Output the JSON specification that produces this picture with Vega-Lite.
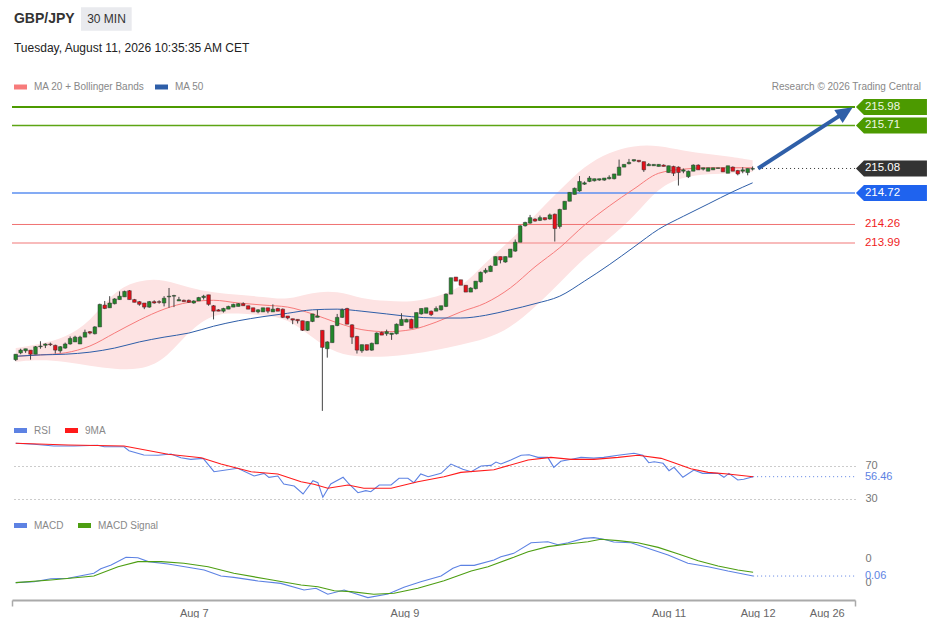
{
  "$schema": "https://vega.github.io/schema/vega-lite/v6.json",
  "background": "white",
  "padding": {"left": 11, "top": 7, "right": 0, "bottom": 0},
  "config": {
    "font": "Liberation Sans",
    "view": {"stroke": null},
    "scale": {"continuousPadding": 0},
    "legend": {
      "orient": "none", "direction": "horizontal", "title": null,
      "labelFontSize": 10, "labelColor": "#888888",
      "symbolType": "stroke", "symbolStrokeWidth": 5, "symbolSize": 169,
      "labelOffset": 4.5, "padding": 0
    }
  },
  "bounds": "flush",
  "spacing": 27,
  "resolve": {
    "scale": {"color": "independent", "x": "independent", "y": "independent"},
    "legend": {"color": "independent"},
    "axis": {"x": "independent", "y": "independent"}
  },
  "datasets": {
    "k": [
      {"i":0,"o":212.28,"h":212.36,"l":212.26,"c":212.36},
      {"i":1,"o":212.38,"h":212.44,"l":212.36,"c":212.42},
      {"i":2,"o":212.41,"h":212.44,"l":212.38,"c":212.44},
      {"i":3,"o":212.42,"h":212.42,"l":212.28,"c":212.36},
      {"i":4,"o":212.36,"h":212.48,"l":212.36,"c":212.47},
      {"i":5,"o":212.47,"h":212.55,"l":212.44,"c":212.48},
      {"i":6,"o":212.49,"h":212.52,"l":212.45,"c":212.51},
      {"i":7,"o":212.51,"h":212.53,"l":212.48,"c":212.50},
      {"i":8,"o":212.49,"h":212.50,"l":212.37,"c":212.42},
      {"i":9,"o":212.41,"h":212.48,"l":212.38,"c":212.47},
      {"i":10,"o":212.45,"h":212.53,"l":212.44,"c":212.51},
      {"i":11,"o":212.51,"h":212.62,"l":212.50,"c":212.59},
      {"i":12,"o":212.54,"h":212.63,"l":212.54,"c":212.61},
      {"i":13,"o":212.51,"h":212.63,"l":212.51,"c":212.61},
      {"i":14,"o":212.61,"h":212.72,"l":212.61,"c":212.68},
      {"i":15,"o":212.69,"h":212.70,"l":212.65,"c":212.67},
      {"i":16,"o":212.66,"h":212.77,"l":212.65,"c":212.76},
      {"i":17,"o":212.76,"h":213.10,"l":212.76,"c":213.09},
      {"i":18,"o":213.08,"h":213.14,"l":213.02,"c":213.03},
      {"i":19,"o":213.04,"h":213.21,"l":213.04,"c":213.11},
      {"i":20,"o":213.10,"h":213.18,"l":213.09,"c":213.17},
      {"i":21,"o":213.16,"h":213.28,"l":213.16,"c":213.21},
      {"i":22,"o":213.20,"h":213.29,"l":213.20,"c":213.28},
      {"i":23,"o":213.29,"h":213.30,"l":213.16,"c":213.16},
      {"i":24,"o":213.16,"h":213.17,"l":213.12,"c":213.12},
      {"i":25,"o":213.13,"h":213.14,"l":213.07,"c":213.09},
      {"i":26,"o":213.11,"h":213.11,"l":213.02,"c":213.05},
      {"i":27,"o":213.05,"h":213.14,"l":213.04,"c":213.13},
      {"i":28,"o":213.13,"h":213.15,"l":213.10,"c":213.11},
      {"i":29,"o":213.13,"h":213.15,"l":213.10,"c":213.12},
      {"i":30,"o":213.11,"h":213.21,"l":213.06,"c":213.18},
      {"i":31,"o":213.20,"h":213.33,"l":213.04,"c":213.21},
      {"i":32,"o":213.21,"h":213.23,"l":213.05,"c":213.22},
      {"i":33,"o":213.14,"h":213.20,"l":213.14,"c":213.16},
      {"i":34,"o":213.15,"h":213.16,"l":213.13,"c":213.13},
      {"i":35,"o":213.15,"h":213.16,"l":213.11,"c":213.12},
      {"i":36,"o":213.11,"h":213.15,"l":213.10,"c":213.14},
      {"i":37,"o":213.14,"h":213.20,"l":213.14,"c":213.19},
      {"i":38,"o":213.19,"h":213.23,"l":213.16,"c":213.21},
      {"i":39,"o":213.23,"h":213.23,"l":213.07,"c":213.09},
      {"i":40,"o":213.07,"h":213.08,"l":212.87,"c":212.99},
      {"i":41,"o":213.01,"h":213.02,"l":212.99,"c":212.99},
      {"i":42,"o":212.99,"h":213.04,"l":212.97,"c":213.03},
      {"i":43,"o":213.02,"h":213.07,"l":213.02,"c":213.06},
      {"i":44,"o":213.05,"h":213.10,"l":213.05,"c":213.09},
      {"i":45,"o":213.06,"h":213.11,"l":213.06,"c":213.10},
      {"i":46,"o":213.10,"h":213.12,"l":213.07,"c":213.07},
      {"i":47,"o":213.07,"h":213.07,"l":213.02,"c":213.02},
      {"i":48,"o":213.04,"h":213.04,"l":212.98,"c":212.98},
      {"i":49,"o":212.98,"h":213.02,"l":212.96,"c":213.01},
      {"i":50,"o":212.98,"h":213.04,"l":212.98,"c":213.04},
      {"i":51,"o":213.04,"h":213.04,"l":212.96,"c":212.99},
      {"i":52,"o":212.98,"h":213.09,"l":212.98,"c":213.02},
      {"i":53,"o":213.03,"h":213.04,"l":212.99,"c":212.99},
      {"i":54,"o":213.02,"h":213.03,"l":212.89,"c":212.90},
      {"i":55,"o":212.92,"h":212.92,"l":212.87,"c":212.89},
      {"i":56,"o":212.88,"h":212.88,"l":212.80,"c":212.86},
      {"i":57,"o":212.87,"h":212.87,"l":212.81,"c":212.85},
      {"i":58,"o":212.85,"h":212.85,"l":212.70,"c":212.71},
      {"i":59,"o":212.71,"h":212.84,"l":212.70,"c":212.84},
      {"i":60,"o":212.84,"h":212.95,"l":212.83,"c":212.95},
      {"i":61,"o":212.90,"h":213.01,"l":212.90,"c":212.92},
      {"i":62,"o":212.71,"h":212.71,"l":211.53,"c":212.46},
      {"i":63,"o":212.44,"h":212.55,"l":212.31,"c":212.54},
      {"i":64,"o":212.53,"h":212.78,"l":212.53,"c":212.78},
      {"i":65,"o":212.78,"h":212.95,"l":212.77,"c":212.90},
      {"i":66,"o":212.90,"h":213.03,"l":212.89,"c":213.01},
      {"i":67,"o":213.03,"h":213.04,"l":212.80,"c":212.80},
      {"i":68,"o":212.79,"h":212.80,"l":212.51,"c":212.61},
      {"i":69,"o":212.62,"h":212.63,"l":212.37,"c":212.42},
      {"i":70,"o":212.41,"h":212.50,"l":212.38,"c":212.50},
      {"i":71,"o":212.50,"h":212.50,"l":212.41,"c":212.42},
      {"i":72,"o":212.42,"h":212.53,"l":212.41,"c":212.52},
      {"i":73,"o":212.51,"h":212.68,"l":212.51,"c":212.67},
      {"i":74,"o":212.68,"h":212.69,"l":212.64,"c":212.64},
      {"i":75,"o":212.66,"h":212.72,"l":212.63,"c":212.69},
      {"i":76,"o":212.65,"h":212.67,"l":212.57,"c":212.67},
      {"i":77,"o":212.66,"h":212.81,"l":212.65,"c":212.80},
      {"i":78,"o":212.78,"h":212.96,"l":212.78,"c":212.87},
      {"i":79,"o":212.83,"h":212.88,"l":212.83,"c":212.87},
      {"i":80,"o":212.87,"h":212.88,"l":212.74,"c":212.74},
      {"i":81,"o":212.75,"h":212.97,"l":212.75,"c":212.97},
      {"i":82,"o":212.95,"h":213.03,"l":212.94,"c":213.03},
      {"i":83,"o":212.96,"h":213.04,"l":212.96,"c":213.04},
      {"i":84,"o":212.99,"h":213.00,"l":212.92,"c":212.94},
      {"i":85,"o":212.99,"h":213.06,"l":212.99,"c":213.03},
      {"i":86,"o":213.01,"h":213.07,"l":213.00,"c":213.07},
      {"i":87,"o":213.06,"h":213.25,"l":213.05,"c":213.24},
      {"i":88,"o":213.24,"h":213.48,"l":213.24,"c":213.48},
      {"i":89,"o":213.49,"h":213.49,"l":213.43,"c":213.43},
      {"i":90,"o":213.45,"h":213.45,"l":213.37,"c":213.37},
      {"i":91,"o":213.37,"h":213.37,"l":213.27,"c":213.27},
      {"i":92,"o":213.27,"h":213.34,"l":213.27,"c":213.33},
      {"i":93,"o":213.32,"h":213.43,"l":213.31,"c":213.43},
      {"i":94,"o":213.42,"h":213.57,"l":213.41,"c":213.56},
      {"i":95,"o":213.56,"h":213.62,"l":213.54,"c":213.59},
      {"i":96,"o":213.57,"h":213.66,"l":213.57,"c":213.65},
      {"i":97,"o":213.66,"h":213.79,"l":213.66,"c":213.79},
      {"i":98,"o":213.79,"h":213.79,"l":213.69,"c":213.74},
      {"i":99,"o":213.71,"h":213.79,"l":213.70,"c":213.79},
      {"i":100,"o":213.78,"h":213.90,"l":213.78,"c":213.90},
      {"i":101,"o":213.87,"h":214.04,"l":213.86,"c":214.00},
      {"i":102,"o":214.00,"h":214.25,"l":214.00,"c":214.24},
      {"i":103,"o":214.24,"h":214.30,"l":214.23,"c":214.29},
      {"i":104,"o":214.28,"h":214.40,"l":214.27,"c":214.36},
      {"i":105,"o":214.34,"h":214.35,"l":214.30,"c":214.31},
      {"i":106,"o":214.32,"h":214.39,"l":214.31,"c":214.36},
      {"i":107,"o":214.36,"h":214.36,"l":214.32,"c":214.33},
      {"i":108,"o":214.34,"h":214.42,"l":214.33,"c":214.40},
      {"i":109,"o":214.41,"h":214.42,"l":214.01,"c":214.20},
      {"i":110,"o":214.23,"h":214.49,"l":214.20,"c":214.48},
      {"i":111,"o":214.48,"h":214.60,"l":214.48,"c":214.60},
      {"i":112,"o":214.60,"h":214.73,"l":214.60,"c":214.73},
      {"i":113,"o":214.70,"h":214.80,"l":214.70,"c":214.79},
      {"i":114,"o":214.75,"h":214.97,"l":214.74,"c":214.89},
      {"i":115,"o":214.85,"h":214.89,"l":214.84,"c":214.87},
      {"i":116,"o":214.89,"h":214.97,"l":214.88,"c":214.94},
      {"i":117,"o":214.90,"h":214.93,"l":214.89,"c":214.93},
      {"i":118,"o":214.91,"h":214.93,"l":214.90,"c":214.93},
      {"i":119,"o":214.91,"h":214.94,"l":214.90,"c":214.94},
      {"i":120,"o":214.93,"h":214.98,"l":214.92,"c":214.95},
      {"i":121,"o":214.93,"h":215.00,"l":214.92,"c":215.00},
      {"i":122,"o":214.98,"h":215.21,"l":214.98,"c":215.10},
      {"i":123,"o":215.10,"h":215.14,"l":215.10,"c":215.14},
      {"i":124,"o":215.15,"h":215.22,"l":215.14,"c":215.17},
      {"i":125,"o":215.19,"h":215.21,"l":215.18,"c":215.21},
      {"i":126,"o":215.20,"h":215.20,"l":215.17,"c":215.18},
      {"i":127,"o":215.18,"h":215.18,"l":215.03,"c":215.06},
      {"i":128,"o":215.12,"h":215.16,"l":215.12,"c":215.14},
      {"i":129,"o":215.12,"h":215.14,"l":215.12,"c":215.14},
      {"i":130,"o":215.11,"h":215.14,"l":215.11,"c":215.14},
      {"i":131,"o":215.13,"h":215.14,"l":215.11,"c":215.11},
      {"i":132,"o":215.02,"h":215.12,"l":215.02,"c":215.12},
      {"i":133,"o":215.11,"h":215.12,"l":214.97,"c":215.01},
      {"i":134,"o":215.10,"h":215.11,"l":214.83,"c":215.02},
      {"i":135,"o":215.04,"h":215.08,"l":215.01,"c":215.06},
      {"i":136,"o":214.96,"h":215.05,"l":214.94,"c":215.04},
      {"i":137,"o":215.04,"h":215.14,"l":215.04,"c":215.13},
      {"i":138,"o":215.13,"h":215.14,"l":215.06,"c":215.06},
      {"i":139,"o":215.07,"h":215.09,"l":215.05,"c":215.09},
      {"i":140,"o":215.04,"h":215.09,"l":215.04,"c":215.09},
      {"i":141,"o":215.06,"h":215.09,"l":215.06,"c":215.09},
      {"i":142,"o":215.08,"h":215.09,"l":215.08,"c":215.09},
      {"i":143,"o":215.09,"h":215.09,"l":215.03,"c":215.03},
      {"i":144,"o":215.01,"h":215.12,"l":215.01,"c":215.12},
      {"i":145,"o":215.10,"h":215.11,"l":215.04,"c":215.04},
      {"i":146,"o":215.05,"h":215.06,"l":214.98,"c":215.00},
      {"i":147,"o":215.04,"h":215.10,"l":215.01,"c":215.06},
      {"i":148,"o":215.02,"h":215.08,"l":214.98,"c":215.08},
      {"i":149,"o":215.07,"h":215.11,"l":215.05,"c":215.08}
    ],
    "ind": [
      {"i":0,"u":212.45,"lo":212.25,"m20":212.33,"m50":212.33},
      {"i":5,"u":212.51,"lo":212.28,"m20":212.35,"m50":212.35},
      {"i":10,"u":212.60,"lo":212.25,"m20":212.38,"m50":212.36},
      {"i":15,"u":212.83,"lo":212.19,"m20":212.48,"m50":212.39},
      {"i":20,"u":213.30,"lo":212.14,"m20":212.67,"m50":212.45},
      {"i":25,"u":213.45,"lo":212.13,"m20":212.86,"m50":212.54},
      {"i":30,"u":213.46,"lo":212.26,"m20":213.02,"m50":212.61},
      {"i":35,"u":213.33,"lo":212.70,"m20":213.12,"m50":212.67},
      {"i":40,"u":213.26,"lo":212.96,"m20":213.15,"m50":212.77},
      {"i":45,"u":213.23,"lo":212.96,"m20":213.11,"m50":212.85},
      {"i":50,"u":213.20,"lo":212.93,"m20":213.08,"m50":212.91},
      {"i":55,"u":213.15,"lo":212.89,"m20":213.05,"m50":212.96},
      {"i":60,"u":213.27,"lo":212.60,"m20":212.95,"m50":213.01},
      {"i":65,"u":213.29,"lo":212.36,"m20":212.82,"m50":213.02},
      {"i":70,"u":213.17,"lo":212.32,"m20":212.72,"m50":212.99},
      {"i":75,"u":213.14,"lo":212.32,"m20":212.69,"m50":212.95},
      {"i":80,"u":213.12,"lo":212.36,"m20":212.72,"m50":212.91},
      {"i":85,"u":213.20,"lo":212.42,"m20":212.83,"m50":212.89},
      {"i":90,"u":213.32,"lo":212.50,"m20":212.98,"m50":212.89},
      {"i":95,"u":213.71,"lo":212.58,"m20":213.11,"m50":212.93},
      {"i":100,"u":214.02,"lo":212.74,"m20":213.33,"m50":213.01},
      {"i":105,"u":214.40,"lo":213.05,"m20":213.64,"m50":213.10},
      {"i":110,"u":214.76,"lo":213.40,"m20":213.92,"m50":213.21},
      {"i":115,"u":215.12,"lo":213.78,"m20":214.25,"m50":213.43},
      {"i":120,"u":215.32,"lo":214.05,"m20":214.53,"m50":213.67},
      {"i":125,"u":215.42,"lo":214.37,"m20":214.78,"m50":213.93},
      {"i":130,"u":215.42,"lo":214.81,"m20":215.01,"m50":214.19},
      {"i":135,"u":215.34,"lo":214.96,"m20":215.07,"m50":214.38},
      {"i":140,"u":215.29,"lo":215.00,"m20":215.09,"m50":214.56},
      {"i":145,"u":215.25,"lo":215.01,"m20":215.09,"m50":214.74},
      {"i":149,"u":215.20,"lo":215.03,"m20":215.09,"m50":214.87}
    ],
    "rsi": [
      {"i":0,"v":96.9,"s":"RSI"},{"i":3.7,"v":95.7,"s":"RSI"},{"i":7.7,"v":93.6,"s":"RSI"},{"i":11.8,"v":93.6,"s":"RSI"},
      {"i":16.6,"v":94.5,"s":"RSI"},{"i":17.9,"v":92.8,"s":"RSI"},{"i":21.9,"v":92.8,"s":"RSI"},{"i":22.9,"v":87.9,"s":"RSI"},
      {"i":25.9,"v":82.7,"s":"RSI"},{"i":28.8,"v":82.4,"s":"RSI"},{"i":31.4,"v":83.9,"s":"RSI"},{"i":33.4,"v":79.5,"s":"RSI"},
      {"i":35.4,"v":77.5,"s":"RSI"},{"i":37.9,"v":78.7,"s":"RSI"},{"i":40.1,"v":62.5,"s":"RSI"},{"i":44.9,"v":66.6,"s":"RSI"},
      {"i":48.2,"v":57.3,"s":"RSI"},{"i":50.2,"v":60.5,"s":"RSI"},{"i":51.2,"v":55.7,"s":"RSI"},{"i":53.0,"v":57.3,"s":"RSI"},
      {"i":54.2,"v":47.6,"s":"RSI"},{"i":56.3,"v":45.2,"s":"RSI"},{"i":58.1,"v":35.5,"s":"RSI"},{"i":60.1,"v":51.6,"s":"RSI"},
      {"i":61.1,"v":49.2,"s":"RSI"},{"i":62.1,"v":31.5,"s":"RSI"},{"i":63.7,"v":47.6,"s":"RSI"},{"i":66.2,"v":55.7,"s":"RSI"},
      {"i":67.4,"v":47.6,"s":"RSI"},{"i":69.2,"v":37.0,"s":"RSI"},{"i":70.8,"v":39.5,"s":"RSI"},{"i":71.8,"v":38.2,"s":"RSI"},
      {"i":73.5,"v":46.4,"s":"RSI"},{"i":75.9,"v":46.4,"s":"RSI"},{"i":77.5,"v":54.5,"s":"RSI"},{"i":79.3,"v":54.5,"s":"RSI"},
      {"i":80.5,"v":49.2,"s":"RSI"},{"i":81.9,"v":59.7,"s":"RSI"},{"i":83.4,"v":56.4,"s":"RSI"},{"i":86.0,"v":60.5,"s":"RSI"},
      {"i":88.0,"v":71.8,"s":"RSI"},{"i":90.4,"v":65.4,"s":"RSI"},{"i":92.1,"v":62.5,"s":"RSI"},{"i":94.1,"v":69.4,"s":"RSI"},
      {"i":96.1,"v":70.2,"s":"RSI"},{"i":97.1,"v":74.2,"s":"RSI"},{"i":98.1,"v":71.8,"s":"RSI"},{"i":100.1,"v":76.7,"s":"RSI"},
      {"i":102.2,"v":82.4,"s":"RSI"},{"i":103.8,"v":83.1,"s":"RSI"},{"i":105.6,"v":79.9,"s":"RSI"},{"i":107.6,"v":79.9,"s":"RSI"},
      {"i":108.8,"v":67.8,"s":"RSI"},{"i":110.2,"v":75.1,"s":"RSI"},{"i":112.9,"v":78.2,"s":"RSI"},{"i":114.3,"v":79.9,"s":"RSI"},
      {"i":116.9,"v":79.0,"s":"RSI"},{"i":118.9,"v":79.9,"s":"RSI"},{"i":121.8,"v":82.4,"s":"RSI"},{"i":123.8,"v":83.9,"s":"RSI"},
      {"i":125.0,"v":84.8,"s":"RSI"},{"i":126.8,"v":82.4,"s":"RSI"},{"i":128.0,"v":73.4,"s":"RSI"},{"i":129.1,"v":74.6,"s":"RSI"},
      {"i":130.9,"v":72.7,"s":"RSI"},{"i":132.1,"v":63.7,"s":"RSI"},{"i":133.1,"v":67.8,"s":"RSI"},{"i":134.9,"v":55.7,"s":"RSI"},
      {"i":137.1,"v":64.5,"s":"RSI"},{"i":138.9,"v":60.5,"s":"RSI"},{"i":142.0,"v":60.5,"s":"RSI"},{"i":143.2,"v":55.7,"s":"RSI"},
      {"i":144.2,"v":60.5,"s":"RSI"},{"i":146.0,"v":52.4,"s":"RSI"},{"i":147.2,"v":53.3,"s":"RSI"},{"i":149.1,"v":56.46,"s":"RSI"},
      {"i":0,"v":96.9,"s":"9MA"},{"i":10.6,"v":94.8,"s":"9MA"},{"i":21.9,"v":93.6,"s":"9MA"},{"i":30.8,"v":83.6,"s":"9MA"},
      {"i":37.5,"v":79.5,"s":"9MA"},{"i":41.5,"v":71.8,"s":"9MA"},{"i":47.6,"v":62.5,"s":"9MA"},{"i":53.0,"v":59.7,"s":"9MA"},
      {"i":57.7,"v":50.4,"s":"9MA"},{"i":60.3,"v":47.2,"s":"9MA"},{"i":63.1,"v":42.4,"s":"9MA"},{"i":67.2,"v":46.4,"s":"9MA"},
      {"i":70.4,"v":42.4,"s":"9MA"},{"i":75.9,"v":42.4,"s":"9MA"},{"i":81.3,"v":50.4,"s":"9MA"},{"i":86.6,"v":56.4,"s":"9MA"},
      {"i":90.0,"v":61.7,"s":"9MA"},{"i":96.7,"v":64.9,"s":"9MA"},{"i":103.6,"v":76.7,"s":"9MA"},{"i":108.2,"v":79.9,"s":"9MA"},
      {"i":112.3,"v":77.5,"s":"9MA"},{"i":116.9,"v":77.5,"s":"9MA"},{"i":121.8,"v":79.9,"s":"9MA"},{"i":125.8,"v":82.4,"s":"9MA"},
      {"i":130.5,"v":78.7,"s":"9MA"},{"i":133.1,"v":73.4,"s":"9MA"},{"i":136.5,"v":66.1,"s":"9MA"},{"i":140.0,"v":61.7,"s":"9MA"},
      {"i":144.0,"v":59.7,"s":"9MA"},{"i":149.1,"v":56.4,"s":"9MA"}
    ],
    "macd": [
      {"i":0,"v":0.003,"s":"MACD"},{"i":3.7,"v":0.011,"s":"MACD"},{"i":7.1,"v":0.036,"s":"MACD"},{"i":10.6,"v":0.039,"s":"MACD"},
      {"i":15.8,"v":0.081,"s":"MACD"},{"i":17.2,"v":0.119,"s":"MACD"},{"i":19.3,"v":0.15,"s":"MACD"},{"i":22.3,"v":0.214,"s":"MACD"},
      {"i":24.7,"v":0.211,"s":"MACD"},{"i":26.8,"v":0.178,"s":"MACD"},{"i":30.8,"v":0.158,"s":"MACD"},{"i":34.8,"v":0.131,"s":"MACD"},
      {"i":38.1,"v":0.108,"s":"MACD"},{"i":41.5,"v":0.058,"s":"MACD"},{"i":44.1,"v":0.047,"s":"MACD"},{"i":49.0,"v":0.017,"s":"MACD"},
      {"i":53.6,"v":-0.003,"s":"MACD"},{"i":58.3,"v":-0.058,"s":"MACD"},{"i":60.7,"v":-0.044,"s":"MACD"},{"i":63.1,"v":-0.094,"s":"MACD"},
      {"i":66.4,"v":-0.058,"s":"MACD"},{"i":68.4,"v":-0.086,"s":"MACD"},{"i":71.2,"v":-0.122,"s":"MACD"},{"i":75.3,"v":-0.092,"s":"MACD"},
      {"i":78.5,"v":-0.036,"s":"MACD"},{"i":81.9,"v":0.011,"s":"MACD"},{"i":86.0,"v":0.058,"s":"MACD"},{"i":88.4,"v":0.122,"s":"MACD"},
      {"i":90.0,"v":0.147,"s":"MACD"},{"i":92.7,"v":0.147,"s":"MACD"},{"i":96.7,"v":0.192,"s":"MACD"},{"i":98.1,"v":0.219,"s":"MACD"},
      {"i":100.7,"v":0.247,"s":"MACD"},{"i":104.2,"v":0.336,"s":"MACD"},{"i":107.6,"v":0.344,"s":"MACD"},{"i":109.6,"v":0.319,"s":"MACD"},
      {"i":111.7,"v":0.336,"s":"MACD"},{"i":114.9,"v":0.372,"s":"MACD"},{"i":116.9,"v":0.378,"s":"MACD"},{"i":118.9,"v":0.364,"s":"MACD"},
      {"i":120.9,"v":0.342,"s":"MACD"},{"i":124.4,"v":0.336,"s":"MACD"},{"i":127.8,"v":0.289,"s":"MACD"},{"i":131.9,"v":0.233,"s":"MACD"},
      {"i":135.9,"v":0.164,"s":"MACD"},{"i":140.0,"v":0.136,"s":"MACD"},{"i":144.0,"v":0.1,"s":"MACD"},{"i":148.1,"v":0.067,"s":"MACD"},
      {"i":149.1,"v":0.058,"s":"MACD"},
      {"i":0,"v":0.003,"s":"MACD Signal"},{"i":7.1,"v":0.025,"s":"MACD Signal"},{"i":15.8,"v":0.058,"s":"MACD Signal"},
      {"i":20.7,"v":0.136,"s":"MACD Signal"},{"i":24.7,"v":0.178,"s":"MACD Signal"},{"i":29.4,"v":0.178,"s":"MACD Signal"},
      {"i":34.0,"v":0.164,"s":"MACD Signal"},{"i":38.9,"v":0.136,"s":"MACD Signal"},{"i":44.1,"v":0.081,"s":"MACD Signal"},
      {"i":51.0,"v":0.031,"s":"MACD Signal"},{"i":57.7,"v":-0.017,"s":"MACD Signal"},{"i":61.1,"v":-0.031,"s":"MACD Signal"},
      {"i":64.4,"v":-0.064,"s":"MACD Signal"},{"i":67.8,"v":-0.072,"s":"MACD Signal"},{"i":72.4,"v":-0.094,"s":"MACD Signal"},
      {"i":76.5,"v":-0.086,"s":"MACD Signal"},{"i":81.3,"v":-0.044,"s":"MACD Signal"},{"i":86.6,"v":0.019,"s":"MACD Signal"},
      {"i":92.1,"v":0.1,"s":"MACD Signal"},{"i":95.5,"v":0.136,"s":"MACD Signal"},{"i":100.7,"v":0.214,"s":"MACD Signal"},
      {"i":103.6,"v":0.261,"s":"MACD Signal"},{"i":107.6,"v":0.303,"s":"MACD Signal"},{"i":111.7,"v":0.325,"s":"MACD Signal"},
      {"i":115.7,"v":0.344,"s":"MACD Signal"},{"i":118.3,"v":0.364,"s":"MACD Signal"},{"i":121.8,"v":0.353,"s":"MACD Signal"},
      {"i":125.8,"v":0.336,"s":"MACD Signal"},{"i":129.9,"v":0.297,"s":"MACD Signal"},{"i":134.0,"v":0.242,"s":"MACD Signal"},
      {"i":138.0,"v":0.186,"s":"MACD Signal"},{"i":142.0,"v":0.142,"s":"MACD Signal"},{"i":146.0,"v":0.108,"s":"MACD Signal"},
      {"i":149.1,"v":0.089,"s":"MACD Signal"}
    ]
  },
  "vconcat": [
    {
      "width": 843,
      "height": 320,
      "data": {"values": [{}]},
      "layer": [
        {
          "data": {"name": "ind"},
          "mark": {"type": "area", "interpolate": "basis", "color": "#fde3e3"},
          "encoding": {
            "x": {"field": "i", "type": "quantitative", "scale": {"domain": [-0.75, 169.7], "nice": false, "zero": false, "padding": 0}, "axis": null},
            "y": {"field": "lo", "type": "quantitative", "scale": {"domain": [211.47, 216.156], "nice": false, "zero": false, "padding": 0}, "axis": null},
            "y2": {"field": "u"}
          }
        },
        {"mark": {"type": "rule", "color": "#4c9a00", "strokeWidth": 2}, "encoding": {"y": {"datum": 215.98}}},
        {"mark": {"type": "rule", "color": "#5da514", "strokeWidth": 1.5}, "encoding": {"y": {"datum": 215.71}}},
        {"mark": {"type": "rule", "color": "#5b8ff0", "strokeWidth": 1.5}, "encoding": {"y": {"datum": 214.72}}},
        {"mark": {"type": "rule", "color": "#f07272", "strokeWidth": 1}, "encoding": {"y": {"datum": 214.26}}},
        {"mark": {"type": "rule", "color": "#f6a5a5", "strokeWidth": 1.5}, "encoding": {"y": {"datum": 213.99}}},
        {
          "data": {"name": "ind"},
          "transform": [{"fold": ["m20", "m50"], "as": ["s", "v"]}],
          "mark": {"type": "line", "strokeWidth": 1, "interpolate": "monotone"},
          "encoding": {
            "x": {"field": "i", "type": "quantitative"},
            "y": {"field": "v", "type": "quantitative"},
            "color": {
              "field": "s", "type": "nominal",
              "scale": {"domain": ["m20", "m50"], "range": ["#f77b7b", "#2e5ea8"]},
              "legend": {"legendX": -0.5, "legendY": -17, "columnPadding": 0, "labelExpr": "datum.label == 'm20' ? 'MA 20 + Bollinger Bands' : 'MA 50'"}
            }
          }
        },
        {
          "data": {"name": "k"},
          "mark": {"type": "rule", "color": "#444444", "strokeWidth": 1},
          "encoding": {
            "x": {"field": "i", "type": "quantitative"},
            "y": {"field": "l", "type": "quantitative"},
            "y2": {"field": "h"}
          }
        },
        {
          "data": {"name": "k"},
          "mark": {"type": "bar", "width": 3.6, "stroke": "#333333", "strokeWidth": 0.5},
          "encoding": {
            "x": {"field": "i", "type": "quantitative"},
            "y": {"field": "o", "type": "quantitative"},
            "y2": {"field": "c"},
            "fill": {"condition": {"test": "datum.c >= datum.o", "value": "#23862a"}, "value": "#e3101a"}
          }
        },
        {
          "mark": {"type": "rule", "color": "#333333", "strokeWidth": 1, "strokeDash": [1, 3]},
          "encoding": {"x": {"datum": 150.1}, "x2": {"datum": 170}, "y": {"datum": 215.08}}
        },
        {
          "mark": {"type": "rule", "color": "#2f5fa8", "strokeWidth": 4},
          "encoding": {"x": {"datum": 150.1}, "x2": {"datum": 167.8}, "y": {"datum": 215.08}, "y2": {"datum": 215.909}}
        },
        {
          "mark": {"type": "point", "shape": "M-1,-0.9L1,0L-1,0.9Z", "size": 289, "angle": 327, "filled": true, "opacity": 1, "color": "#2f5fa8"},
          "encoding": {"x": {"datum": 167.8}, "y": {"datum": 215.909}}
        },
        {
          "mark": {"type": "point", "shape": "M-1,0L-0.775,-0.225L1,-0.225L1,0.225L-0.775,0.225Z", "size": 5041, "filled": true, "opacity": 1, "strokeWidth": 0, "color": "#4c9a00"},
          "encoding": {"x": {"datum": 177.07}, "y": {"datum": 215.98}}
        },
        {
          "mark": {"type": "point", "shape": "M-1,0L-0.775,-0.225L1,-0.225L1,0.225L-0.775,0.225Z", "size": 5041, "filled": true, "opacity": 1, "strokeWidth": 0, "color": "#4c9a00"},
          "encoding": {"x": {"datum": 177.07}, "y": {"datum": 215.71}}
        },
        {
          "mark": {"type": "point", "shape": "M-1,0L-0.775,-0.225L1,-0.225L1,0.225L-0.775,0.225Z", "size": 5041, "filled": true, "opacity": 1, "strokeWidth": 0, "color": "#333333"},
          "encoding": {"x": {"datum": 177.07}, "y": {"datum": 215.08}}
        },
        {
          "mark": {"type": "point", "shape": "M-1,0L-0.775,-0.225L1,-0.225L1,0.225L-0.775,0.225Z", "size": 5041, "filled": true, "opacity": 1, "strokeWidth": 0, "color": "#1f63ee"},
          "encoding": {"x": {"datum": 177.07}, "y": {"datum": 214.72}}
        },
        {
          "mark": {"type": "text", "align": "left", "baseline": "middle", "fontSize": 11.5, "color": "#eef7e4"},
          "encoding": {"x": {"datum": 171.7}, "y": {"datum": 215.98}, "text": {"value": "215.98"}}
        },
        {
          "mark": {"type": "text", "align": "left", "baseline": "middle", "fontSize": 11.5, "color": "#eef7e4"},
          "encoding": {"x": {"datum": 171.7}, "y": {"datum": 215.71}, "text": {"value": "215.71"}}
        },
        {
          "mark": {"type": "text", "align": "left", "baseline": "middle", "fontSize": 11.5, "color": "#ffffff"},
          "encoding": {"x": {"datum": 171.7}, "y": {"datum": 215.08}, "text": {"value": "215.08"}}
        },
        {
          "mark": {"type": "text", "align": "left", "baseline": "middle", "fontSize": 11.5, "color": "#ffffff"},
          "encoding": {"x": {"datum": 171.7}, "y": {"datum": 214.72}, "text": {"value": "214.72"}}
        },
        {
          "mark": {"type": "text", "align": "left", "baseline": "middle", "fontSize": 11.5, "color": "#f01d1d"},
          "encoding": {"x": {"datum": 171.7}, "y": {"datum": 214.26}, "text": {"value": "214.26"}}
        },
        {
          "mark": {"type": "text", "align": "left", "baseline": "middle", "fontSize": 11.5, "color": "#f01d1d"},
          "encoding": {"x": {"datum": 171.7}, "y": {"datum": 213.99}, "text": {"value": "213.99"}}
        },
        {
          "mark": {"type": "text", "align": "left", "baseline": "middle", "fontSize": 14, "fontWeight": "bold", "color": "#333333"},
          "encoding": {"x": {"datum": -0.35}, "y": {"datum": 217.269}, "text": {"value": "GBP/JPY"}}
        },
        {
          "mark": {"type": "rect", "color": "#e9eaee"},
          "encoding": {"x": {"datum": 13.2}, "x2": {"datum": 23.45}, "y": {"datum": 217.44}, "y2": {"datum": 217.098}}
        },
        {
          "mark": {"type": "text", "align": "center", "baseline": "middle", "fontSize": 12, "color": "#333333"},
          "encoding": {"x": {"datum": 18.36}, "y": {"datum": 217.269}, "text": {"value": "30 MIN"}}
        },
        {
          "mark": {"type": "text", "align": "left", "baseline": "middle", "fontSize": 12, "color": "#222222"},
          "encoding": {"x": {"datum": -0.35}, "y": {"datum": 216.837}, "text": {"value": "Tuesday, August 11, 2026 10:35:35 AM CET"}}
        },
        {
          "mark": {"type": "text", "align": "right", "baseline": "middle", "fontSize": 10, "color": "#888888"},
          "encoding": {"x": {"datum": 183.03}, "y": {"datum": 216.28}, "text": {"value": "Research © 2026 Trading Central"}}
        }
      ]
    },
    {
      "width": 843,
      "height": 66,
      "data": {"values": [{}]},
      "layer": [
        {
          "data": {"name": "rsi"},
          "mark": {"type": "line", "strokeWidth": 1.1},
          "encoding": {
            "x": {"field": "i", "type": "quantitative", "scale": {"domain": [-0.75, 169.7], "nice": false, "zero": false}, "axis": null},
            "y": {
              "field": "v", "type": "quantitative",
              "scale": {"domain": [18.5, 98.5], "nice": false, "zero": false},
              "axis": {"orient": "right", "values": [30, 50, 70], "grid": true, "gridDash": [1, 3], "gridColor": "#999999", "domain": false, "ticks": false, "tickSize": 0, "labelPadding": 10, "labelFontSize": 11, "labelColor": "#777777", "title": null}
            },
            "color": {
              "field": "s", "type": "nominal",
              "scale": {"domain": ["RSI", "9MA"], "range": ["#5d82e3", "#ff1a1a"]},
              "legend": {"legendX": -0.5, "legendY": -20.5, "columnPadding": 3}
            }
          }
        },
        {
          "mark": {"type": "rule", "color": "#5d82e3", "strokeWidth": 1, "strokeDash": [1, 3]},
          "encoding": {"x": {"datum": 149.1}, "x2": {"datum": 169.7}, "y": {"datum": 56.46}}
        },
        {
          "mark": {"type": "text", "align": "left", "baseline": "middle", "fontSize": 11, "color": "#5d82e3"},
          "encoding": {"x": {"datum": 171.7}, "y": {"datum": 56.46}, "text": {"value": "56.46"}}
        }
      ]
    },
    {
      "width": 843,
      "height": 65,
      "data": {"values": [{}]},
      "layer": [
        {
          "data": {"name": "macd"},
          "mark": {"type": "line", "strokeWidth": 1.1},
          "encoding": {
            "x": {
              "field": "i", "type": "quantitative",
              "scale": {"domain": [-0.75, 169.7], "nice": false, "zero": false},
              "axis": {
                "values": [-0.75, 36, 78.6, 132, 150, 164, 169.7],
                "labelExpr": "datum.value < 0 || datum.value > 169 ? '' : datum.value < 50 ? 'Aug 7' : datum.value < 100 ? 'Aug 9' : datum.value < 140 ? 'Aug 11' : datum.value < 155 ? 'Aug 12' : 'Aug 26'",
                "grid": false, "domainColor": "#aaaaaa", "domainWidth": 2,
                "tickColor": "#aaaaaa", "tickSize": 6, "tickWidth": 1.5,
                "tickOpacity": {"condition": {"test": "datum.value < 0 || datum.value > 169", "value": 1}, "value": 0},
                "labelPadding": 1, "labelFontSize": 11, "labelColor": "#666666",
                "labelFlush": false, "labelOverlap": false, "title": null
              }
            },
            "y": {
              "field": "v", "type": "quantitative",
              "scale": {"domain": [-0.1417, 0.4], "nice": false, "zero": false},
              "axis": {"orient": "right", "values": [0, 0.2], "format": ".0f", "grid": false, "domain": false, "ticks": false, "tickSize": 0, "labelPadding": 10, "labelFontSize": 11, "labelColor": "#777777", "title": null}
            },
            "color": {
              "field": "s", "type": "nominal",
              "scale": {"domain": ["MACD", "MACD Signal"], "range": ["#5d82e3", "#4d9e12"]},
              "legend": {"legendX": -0.5, "legendY": -18.5, "columnPadding": 4}
            }
          }
        },
        {
          "mark": {"type": "rule", "color": "#5d82e3", "strokeWidth": 1, "strokeDash": [1, 3]},
          "encoding": {"x": {"datum": 149.1}, "x2": {"datum": 169.7}, "y": {"datum": 0.058}}
        },
        {
          "mark": {"type": "text", "align": "left", "baseline": "middle", "fontSize": 11, "color": "#5d82e3"},
          "encoding": {"x": {"datum": 171.7}, "y": {"datum": 0.058}, "text": {"value": "0.06"}}
        }
      ]
    }
  ]
}
